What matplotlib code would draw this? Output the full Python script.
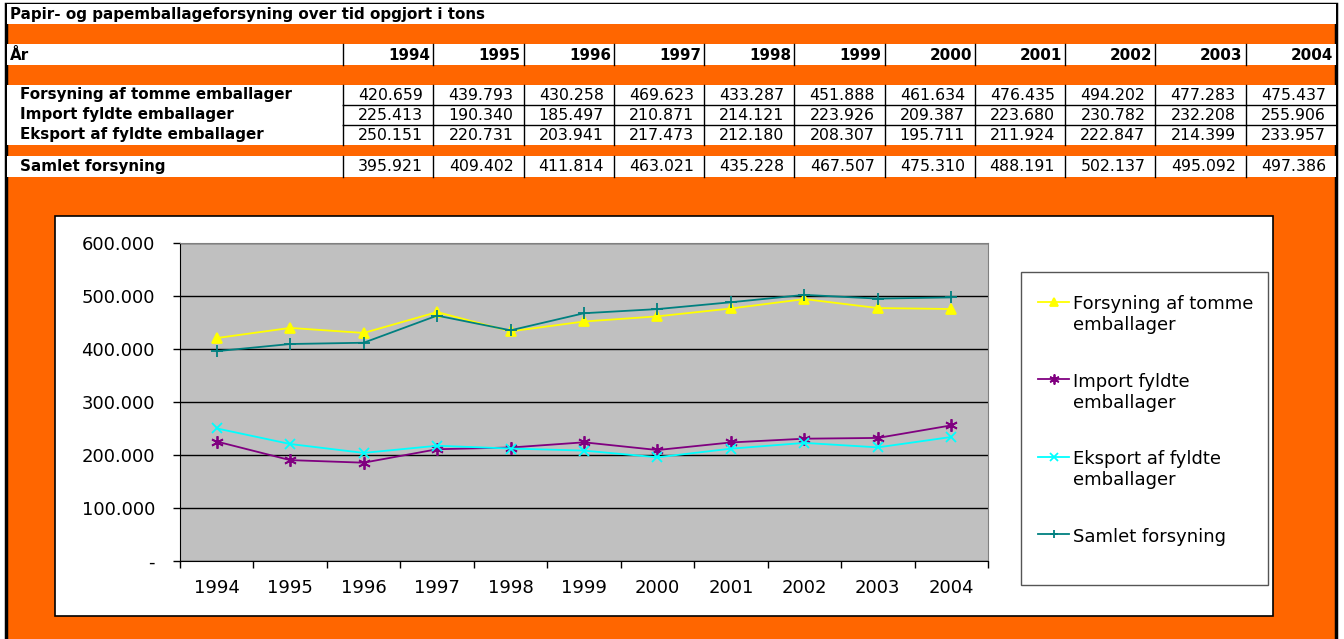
import matplotlib.pyplot as plt
from matplotlib.patches import Rectangle
from matplotlib.ticker import FuncFormatter

years = [1994, 1995, 1996, 1997, 1998, 1999, 2000, 2001, 2002, 2003, 2004]
forsyning_tomme = [420659, 439793, 430258, 469623, 433287, 451888, 461634, 476435, 494202, 477283, 475437]
import_fyldte = [225413, 190340, 185497, 210871, 214121, 223926, 209387, 223680, 230782, 232208, 255906]
eksport_fyldte = [250151, 220731, 203941, 217473, 212180, 208307, 195711, 211924, 222847, 214399, 233957]
samlet = [395921, 409402, 411814, 463021, 435228, 467507, 475310, 488191, 502137, 495092, 497386]

title = 'Papir- og papemballageforsyning over tid opgjort i tons'
row_labels = ['Forsyning af tomme emballager', 'Import fyldte emballager',
              'Eksport af fyldte emballager', 'Samlet forsyning']
legend_labels = ['Forsyning af tomme\nemballager', 'Import fyldte\nemballager',
                 'Eksport af fyldte\nemballager', 'Samlet forsyning']

ORANGE = '#FF6600'
W, H = 1344, 639


def dk(v):
    # danish thousand separator
    return f'{v:,.0f}'.replace(',', '.')


fig = plt.figure(figsize=(W / 100, H / 100), dpi=100)
bg = fig.add_axes([0, 0, 1, 1])
bg.set_xlim(0, W)
bg.set_ylim(H, 0)
bg.axis('off')

# outer frame and orange background
bg.add_patch(Rectangle((6, 4), 1330, 640, facecolor=ORANGE, edgecolor='black', lw=2.5))

# white table rows
x0, x_lab = 6, 343
col_w = (1336 - x_lab) / len(years)
rows_white = [(4, 24), (44, 65), (85, 105), (105, 125), (125, 145), (156, 177)]
for y_top, y_bot in rows_white:
    bg.add_patch(Rectangle((x0 + 1, y_top), 1329, y_bot - y_top, facecolor='white', edgecolor='none'))

bold_fs = 10.9
num_fs = 11.3
bg.text(10, 14.5, title, fontsize=bold_fs, fontweight='bold', va='center', ha='left')

# header row
bg.text(10, 55, 'År', fontsize=bold_fs, fontweight='bold', va='center', ha='left')
for i, yr in enumerate(years):
    xr = x_lab + (i + 1) * col_w
    bg.text(xr - 3, 55, str(yr), fontsize=bold_fs, fontweight='bold', va='center', ha='right')
    bg.plot([xr - col_w, xr - col_w], [44, 65], color='black', lw=1)

# data rows
data_rows = [(forsyning_tomme, 85, 105), (import_fyldte, 105, 125),
             (eksport_fyldte, 125, 145), (samlet, 156, 177)]
for label, (vals, y_top, y_bot) in zip(row_labels, data_rows):
    yc = (y_top + y_bot) / 2
    bg.text(20, yc, label, fontsize=bold_fs, fontweight='bold', va='center', ha='left')
    for i, v in enumerate(vals):
        xr = x_lab + (i + 1) * col_w
        bg.text(xr - 10, yc, dk(v), fontsize=num_fs, va='center', ha='right')
        bg.plot([xr - col_w, xr - col_w], [y_top, y_bot], color='black', lw=1)
bg.plot([x_lab, 1336], [105, 105], color='black', lw=1)
bg.plot([x_lab, 1336], [125, 125], color='black', lw=1)

# chart box and legend box
bg.add_patch(Rectangle((55, 216), 1218, 400, facecolor='white', edgecolor='black', lw=1.2))
bg.add_patch(Rectangle((1021, 272), 247, 313, facecolor='white', edgecolor='#555555', lw=1))

# plot area
px0, px1, py0, py1 = 180, 988, 243, 561
ax = fig.add_axes([px0 / W, (H - py1) / H, (px1 - px0) / W, (py1 - py0) / H])
ax.set_facecolor('#C0C0C0')
x = list(range(len(years)))
series = [
    (forsyning_tomme, '#FFFF00', '^', 7),
    (import_fyldte, '#800080', (6, 2, 0), 9),
    (eksport_fyldte, '#00FFFF', 'x', 7),
    (samlet, '#008080', '+', 8),
]
handles = []
for (vals, col, mk, ms), lab in zip(series, legend_labels):
    h, = ax.plot(x, vals, color=col, marker=mk, markersize=ms, lw=1.3,
                 markeredgewidth=1.3, label=lab)
    handles.append(h)

ax.set_xlim(-0.5, len(years) - 0.5)
ax.set_ylim(0, 600000)
ax.set_yticks(range(0, 600001, 100000))
ax.yaxis.set_major_formatter(FuncFormatter(lambda v, p: '-' if v == 0 else dk(v)))
ax.set_xticks(x)
ax.set_xticklabels([str(y) for y in years])
ax.set_xticks([i - 0.5 for i in range(len(years) + 1)], minor=True)
ax.tick_params(axis='x', which='major', length=0, pad=13, labelsize=13)
ax.tick_params(axis='x', which='minor', length=5, width=1)
ax.tick_params(axis='y', length=5, width=1, pad=13, labelsize=13)
ax.grid(axis='y', color='black', lw=1)
ax.set_axisbelow(True)
for s in ['top', 'right']:
    ax.spines[s].set_color('#808080')
for s in ['left', 'bottom']:
    ax.spines[s].set_color('black')

leg = ax.legend(handles=handles, loc='upper left',
                bbox_to_anchor=(1031 / W, (H - 288) / H), bbox_transform=fig.transFigure,
                frameon=False, fontsize=13, handlelength=1.7, handletextpad=0.25,
                labelspacing=2.15, borderaxespad=0, markerscale=0.8)
try:
    for col in leg._legend_handle_box.get_children():
        for hp in col.get_children():
            hp.align = 'top'
except AttributeError:
    pass

fig.savefig('out.png', dpi=100)
